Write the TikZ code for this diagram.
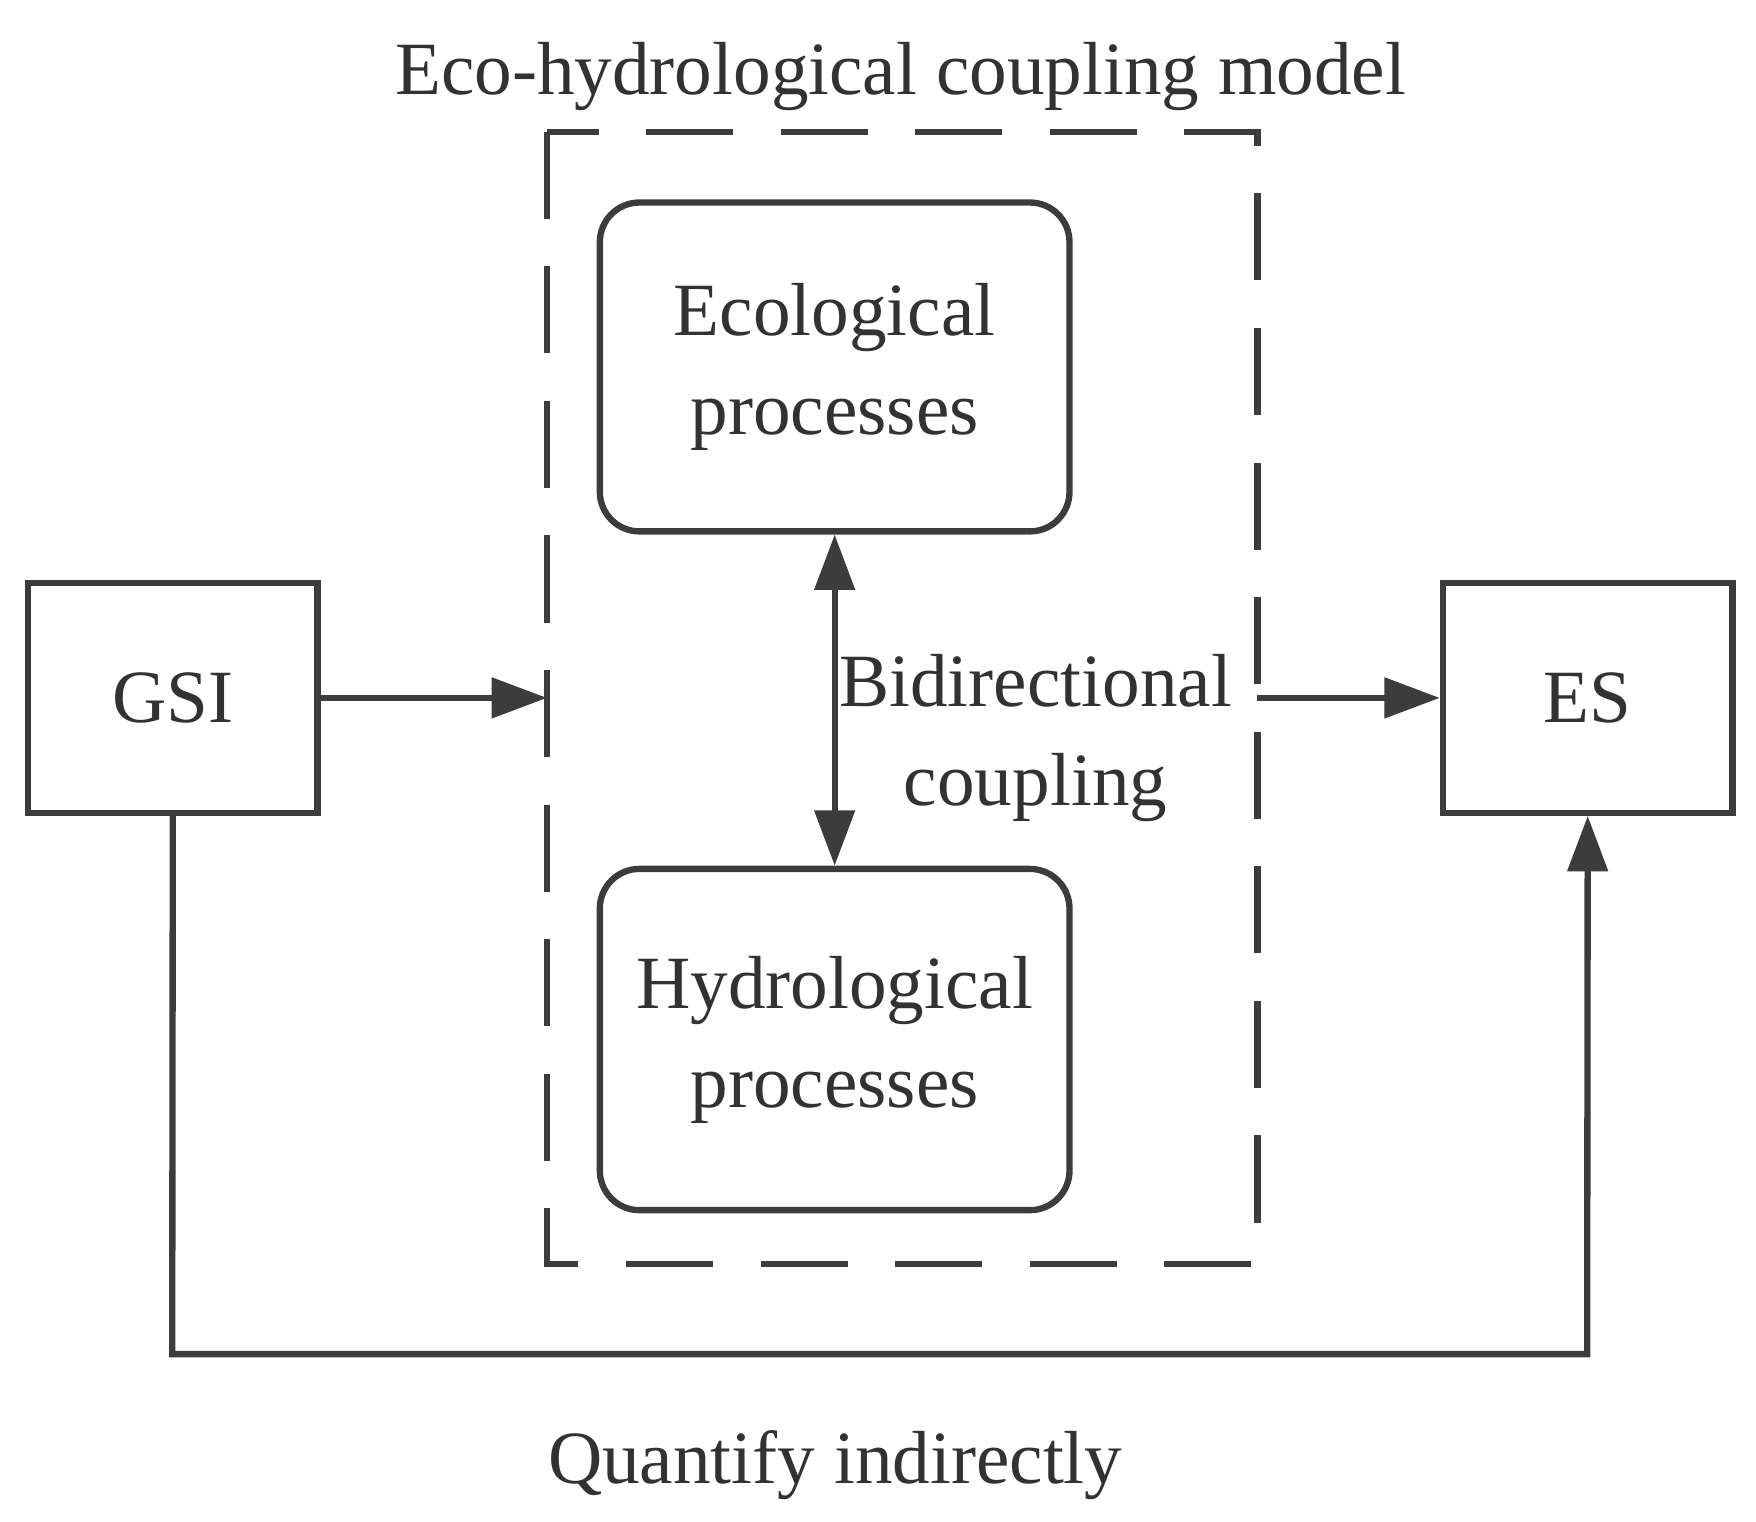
\documentclass[tikz,border=0pt]{standalone}
\usepackage{fontspec}
\setmainfont{Liberation Serif}
\usetikzlibrary{arrows.meta}
\begin{document}
\begin{tikzpicture}[x=0.01cm,y=-0.01cm,
  line width=1.6pt, draw={rgb,255:red,60;green,60;blue,60},
  txt/.style={font=\fontsize{19pt}{25pt}\selectfont, text={rgb,255:red,50;green,50;blue,50}, align=center},
  proc/.style={draw, rounded corners=10pt, minimum width=4.17cm, txt},
  sq/.style={draw, minimum width=2.57cm, minimum height=2.04cm, txt},
  arr/.style={-{Triangle[length=14pt,width=10pt]}}]
\useasboundingbox (0,0) rectangle (1560,1352);
\draw[dashed, dash pattern=on 22pt off 12pt] (486,117) rectangle (1117,1123);
\node[proc, minimum height=2.92cm] (eco) at (741.5,326) {Ecological\\processes};
\node[proc, minimum height=3.03cm] (hyd) at (741.5,923.5) {Hydrological\\processes};
\node[sq] (gsi) at (153.5,620) {GSI};
\node[sq] (es) at (1410.5,620) {ES};
\coordinate (dl) at (486,620);
\coordinate (dr) at (1117,620);
\coordinate (b1) at (153,1203);
\coordinate (b2) at (1410,1203);
\draw[arr] (gsi.east) -- (dl);
\draw[arr] (dr) -- (es.west);
\draw[{Triangle[length=14pt,width=10pt]}-{Triangle[length=14pt,width=10pt]}] (eco.south) -- (hyd.north);
\draw[arr] (gsi.south) -- (b1) -- (b2) -- (es.south);
\node[txt] (bc) at (920,656) {Bidirectional\\coupling};
\node[txt] (tt) at (800,68) {Eco-hydrological coupling model};
\node[txt] (qi) at (742,1302) {Quantify indirectly};
\end{tikzpicture}
\end{document}
